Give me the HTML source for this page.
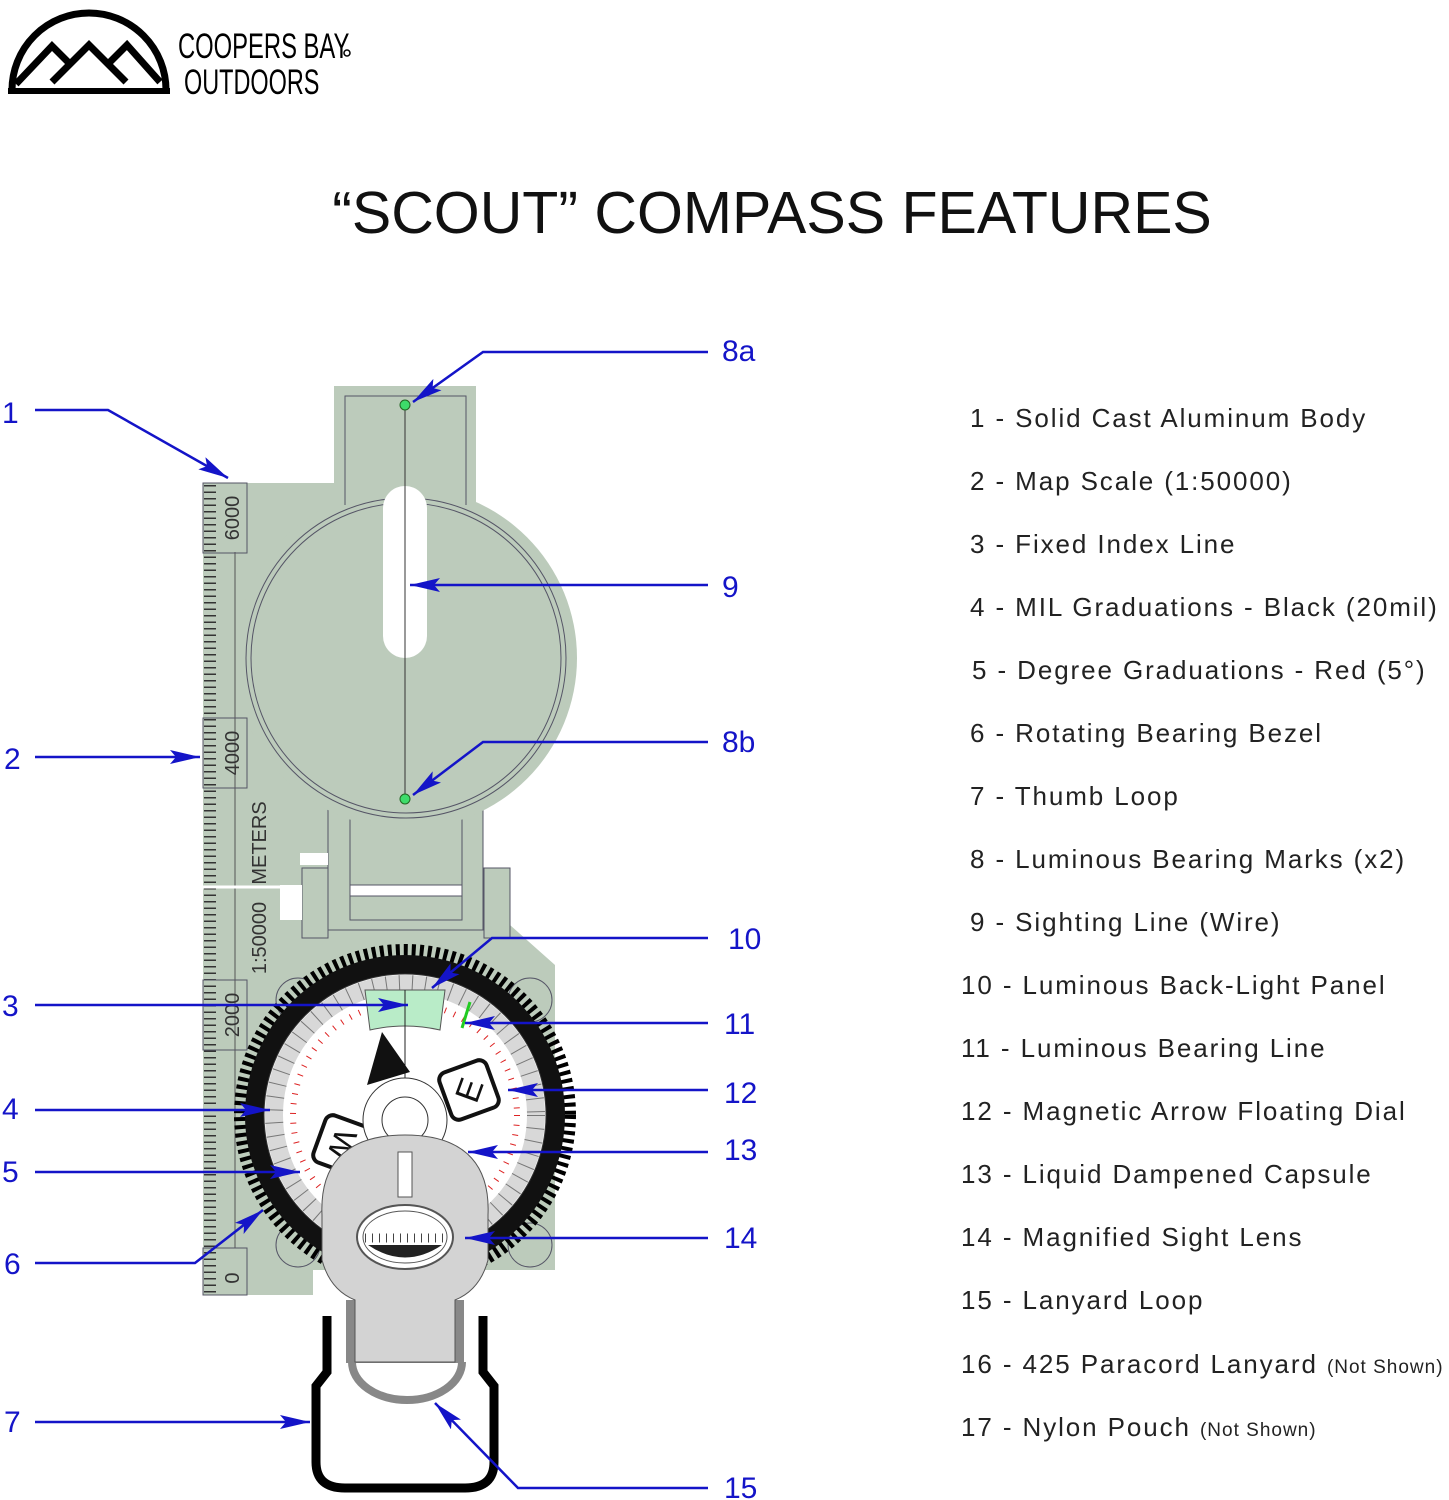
<!DOCTYPE html>
<html><head><meta charset="utf-8"><style>
html,body{margin:0;padding:0;background:#fff}
svg{display:block}
text{font-family:"Liberation Sans",sans-serif}
.lb{fill:#1414c8;font-size:30px}
.lt{fill:#222;font-size:26px;letter-spacing:1.9px}
.sm{font-size:19px;letter-spacing:1px}
.bl{stroke:#1414c8;stroke-width:2.5;fill:none;marker-end:url(#ah)}
</style></head><body>
<svg width="1449" height="1500" viewBox="0 0 1449 1500" xmlns="http://www.w3.org/2000/svg">
<defs>
<marker id="ah" viewBox="0 0 30 14" refX="30" refY="7" markerWidth="30" markerHeight="14" markerUnits="userSpaceOnUse" orient="auto"><path d="M0,0 L30,7 L0,14 L6,7z" fill="#1414c8"/></marker>
</defs>
<!-- logo -->
<path d="M12,90 A77,77 0 0 1 166,90" fill="none" stroke="#000" stroke-width="7"/>
<rect x="8" y="88" width="162" height="6" fill="#000"/>
<path d="M16,84 L52,46 L72,66 M52,82 L89,45 L126,82 M108,64 L127,45 L160,82" fill="none" stroke="#000" stroke-width="7"/>
<text x="178" y="58" font-size="35" transform="translate(178 0) scale(0.68 1) translate(-178 0)">COOPERS BAY</text>
<circle cx="347" cy="53" r="3" fill="none" stroke="#000" stroke-width="1.5"/>
<text x="184" y="94" font-size="35" transform="translate(184 0) scale(0.67 1) translate(-184 0)">OUTDOORS</text>
<!-- title -->
<text x="772" y="233" font-size="59" text-anchor="middle" fill="#111">“SCOUT” COMPASS FEATURES</text>

<!-- compass body -->
<g stroke="#556" stroke-width="1">
<rect x="203" y="483" width="132" height="420" fill="#bccbbb" stroke="none"/>
<path d="M247,900 L247,1270 L555,1270 L555,965 L510,925 L247,925z" fill="#bccbbb" stroke="none"/>
<rect x="203" y="895" width="110" height="400" fill="#bccbbb" stroke="none"/>
<rect x="328" y="780" width="155" height="150" fill="#bccbbb"/>
<rect x="350" y="780" width="112" height="140" fill="none"/>
<rect x="350" y="885" width="112" height="11" fill="#fff"/>
<rect x="302" y="868" width="26" height="70" fill="#bccbbb"/>
<rect x="484" y="868" width="26" height="70" fill="#bccbbb"/>
<rect x="300" y="853" width="28" height="12" fill="#fff" stroke="none"/>
<rect x="280" y="885" width="22" height="35" fill="#fff" stroke="none"/>
<circle cx="406" cy="658" r="171" fill="#bccbbb" stroke="none"/>
<rect x="334" y="386" width="142" height="130" fill="#bccbbb" stroke="none"/>
<circle cx="406" cy="658" r="160" fill="none"/>
<circle cx="406" cy="658" r="155" fill="none"/>
<path d="M345,505 L345,396 L466,396 L466,505" fill="none"/>
<rect x="383" y="486" width="44" height="172" rx="22" fill="#fff" stroke="none"/>
<line x1="405" y1="405" x2="405" y2="800" stroke="#333"/>
<circle cx="405" cy="405" r="5" fill="#3ddc6a" stroke="#262"/>
<circle cx="405" cy="799" r="5" fill="#3ddc6a" stroke="#262"/>
<!-- ruler -->
<line x1="235" y1="552" x2="235" y2="1248" stroke="#555"/>
<line x1="210" y1="485" x2="210" y2="1293" stroke="#333" stroke-width="12" stroke-dasharray="1.5 5"/>
<rect x="203" y="483" width="44" height="70" fill="none"/>
<rect x="203" y="718" width="44" height="70" fill="none"/>
<rect x="203" y="980" width="44" height="70" fill="none"/>
<rect x="203" y="1248" width="44" height="47" fill="none"/>
<line x1="203" y1="887" x2="280" y2="887" stroke="#fff" stroke-width="3"/>
<circle cx="298" cy="1000" r="22" fill="none"/><circle cx="530" cy="1000" r="22" fill="none"/>
<circle cx="298" cy="1245" r="22" fill="none"/><circle cx="530" cy="1245" r="22" fill="none"/>
</g>
<g fill="#333" font-size="20">
<text transform="translate(239 518) rotate(-90)" text-anchor="middle">6000</text>
<text transform="translate(239 753) rotate(-90)" text-anchor="middle">4000</text>
<text transform="translate(266 843) rotate(-90)" text-anchor="middle">METERS</text>
<text transform="translate(266 938) rotate(-90)" text-anchor="middle">1:50000</text>
<text transform="translate(239 1015) rotate(-90)" text-anchor="middle">2000</text>
<text transform="translate(239 1278) rotate(-90)" text-anchor="middle">0</text>
</g>
<!-- bezel -->
<circle cx="405" cy="1115" r="165" fill="none" stroke="#000" stroke-width="12" stroke-dasharray="4 4"/>
<circle cx="405" cy="1115" r="160" fill="#111"/>
<circle cx="405" cy="1115" r="141" fill="#fff" stroke="#333"/>
<circle cx="405" cy="1115" r="131" fill="none" stroke="#d8d8d8" stroke-width="18"/>
<circle cx="405" cy="1115" r="131" fill="none" stroke="#777" stroke-width="18" stroke-dasharray="1 12"/>
<circle cx="405" cy="1115" r="112" fill="none" stroke="#d22" stroke-width="6" stroke-dasharray="1 8.8"/>
<path d="M365,990 L445,990 L440,1030 Q405,1022 370,1030z" fill="#b9ecc8" stroke="#555"/>
<line x1="470" y1="1002" x2="462" y2="1028" stroke="#2c2" stroke-width="3"/>
<line x1="405" y1="990" x2="405" y2="1090" stroke="#222"/>
<path d="M367,1085 L382,1032 L410,1072z" fill="#111"/>
<rect x="444" y="1065" width="50" height="50" rx="8" fill="#fff" stroke="#111" stroke-width="4" transform="rotate(-20 469 1090)"/>
<text x="469" y="1102" font-size="34" text-anchor="middle" transform="rotate(-70 469 1090)" fill="#111">E</text>
<rect x="318" y="1120" width="50" height="50" rx="8" fill="#fff" stroke="#111" stroke-width="4" transform="rotate(20 343 1145)"/>
<text x="343" y="1157" font-size="32" text-anchor="middle" transform="rotate(110 343 1145)" fill="#111">W</text>
<circle cx="405" cy="1120" r="42" fill="#fff" stroke="#333"/>
<circle cx="405" cy="1120" r="23" fill="#fff" stroke="#333"/>
<!-- sight -->
<rect x="346" y="1300" width="118" height="63" fill="#888"/>
<path d="M352,1362 A55,38 0 0 0 462,1362" fill="none" stroke="#888" stroke-width="8"/>
<path d="M405,1135 C470,1135 490,1170 488,1215 L488,1260 Q480,1290 455,1300 L455,1362 L355,1362 L355,1300 Q330,1290 322,1260 L322,1215 C320,1170 340,1135 405,1135z" fill="#d3d3d3" stroke="#555"/>
<rect x="398" y="1152" width="14" height="45" fill="#fff" stroke="#555"/>
<ellipse cx="405" cy="1237" rx="48" ry="32" fill="#fff" stroke="#555" stroke-width="2"/>
<ellipse cx="405" cy="1237" rx="42" ry="26" fill="#fff" stroke="#555"/>
<path d="M368,1245 L442,1245 Q405,1270 368,1245z" fill="#222"/>
<line x1="365" y1="1238" x2="445" y2="1238" stroke="#444" stroke-width="9" stroke-dasharray="1 6"/>
<!-- thumb loop -->
<path d="M327,1316 L327,1372 L316,1386 L316,1462 Q316,1488 345,1488 L465,1488 Q494,1488 494,1462 L494,1386 L483,1372 L483,1316" fill="none" stroke="#000" stroke-width="9"/>

<!-- leaders -->
<path class="bl" d="M35,410 L108,410 L228,478"/>
<path class="bl" d="M708,352 L483,352 L413,402"/>
<path class="bl" d="M708,585 L410,585"/>
<path class="bl" d="M708,742 L483,742 L413,795"/>
<path class="bl" d="M35,757 L200,757"/>
<path class="bl" d="M708,938 L492,938 L432,988"/>
<path class="bl" d="M35,1005 L408,1005"/>
<path class="bl" d="M708,1023 L465,1023"/>
<path class="bl" d="M708,1090 L508,1090"/>
<path class="bl" d="M35,1110 L270,1110"/>
<path class="bl" d="M708,1152 L468,1152"/>
<path class="bl" d="M35,1172 L300,1172"/>
<path class="bl" d="M708,1238 L465,1238"/>
<path class="bl" d="M35,1263 L195,1263 L263,1210"/>
<path class="bl" d="M35,1422 L310,1422"/>
<path class="bl" d="M708,1488 L518,1488 L435,1403"/>
<text class="lb" x="2" y="423">1</text>
<text class="lb" x="722" y="361">8a</text>
<text class="lb" x="722" y="597">9</text>
<text class="lb" x="722" y="752">8b</text>
<text class="lb" x="4" y="769">2</text>
<text class="lb" x="728" y="949">10</text>
<text class="lb" x="2" y="1016">3</text>
<text class="lb" x="724" y="1034">11</text>
<text class="lb" x="724" y="1103">12</text>
<text class="lb" x="2" y="1119">4</text>
<text class="lb" x="724" y="1160">13</text>
<text class="lb" x="2" y="1182">5</text>
<text class="lb" x="724" y="1248">14</text>
<text class="lb" x="4" y="1274">6</text>
<text class="lb" x="4" y="1432">7</text>
<text class="lb" x="724" y="1498">15</text>

<!-- list -->
<text class="lt" x="970" y="427">1 - Solid Cast Aluminum Body</text>
<text class="lt" x="970" y="490">2 - Map Scale (1:50000)</text>
<text class="lt" x="970" y="553">3 - Fixed Index Line</text>
<text class="lt" x="970" y="616">4 - MIL Graduations - Black (20mil)</text>
<text class="lt" x="972" y="679">5 - Degree Graduations - Red (5°)</text>
<text class="lt" x="970" y="742">6 - Rotating Bearing Bezel</text>
<text class="lt" x="970" y="805">7 - Thumb Loop</text>
<text class="lt" x="970" y="868">8 - Luminous Bearing Marks (x2)</text>
<text class="lt" x="970" y="931">9 - Sighting Line (Wire)</text>
<text class="lt" x="961" y="994">10 - Luminous Back-Light Panel</text>
<text class="lt" x="961" y="1057">11 - Luminous Bearing Line</text>
<text class="lt" x="961" y="1120">12 - Magnetic Arrow Floating Dial</text>
<text class="lt" x="961" y="1183">13 - Liquid Dampened Capsule</text>
<text class="lt" x="961" y="1246">14 - Magnified Sight Lens</text>
<text class="lt" x="961" y="1309">15 - Lanyard Loop</text>
<text class="lt" x="961" y="1373">16 - 425 Paracord Lanyard <tspan class="sm">(Not Shown)</tspan></text>
<text class="lt" x="961" y="1436">17 - Nylon Pouch <tspan class="sm">(Not Shown)</tspan></text>
</svg>
</body></html>
